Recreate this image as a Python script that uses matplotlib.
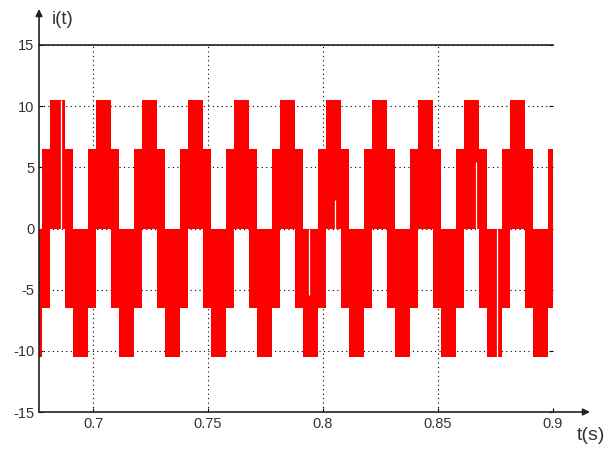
import numpy as np
import matplotlib
matplotlib.use("Agg")
import matplotlib.pyplot as plt

plt.rcParams['font.family'] = ['Liberation Sans', 'DejaVu Sans']
plt.rcParams['axes.unicode_minus'] = False

# one switching cycle (fractions of the 20 ms period) and its envelope levels
period = 0.02
cycle_edges = [0.0, 1 / 6, 1 / 2, 2 / 3, 1.0]
upper_levels = [6.5, 10.5, 6.5, 0.0]
lower_levels = [-6.5, 0.0, -6.5, -10.5]

# start time of every cycle seen in the picture
cycle_starts = [0.6578, 0.6778, 0.6978, 0.7178, 0.7378, 0.7578, 0.7778,
                0.7978, 0.8178, 0.8378, 0.8578, 0.8778, 0.8978]

# thin white dropouts in the band: time, from, to
glitch_t = [0.6861, 0.7941, 0.8052, 0.8665, 0.8758]
glitch_lo = [0.0, -5.4, 0.0, 0.0, -10.5]
glitch_hi = [10.5, 0.0, 2.3, 5.4, 0.0]

x_ticks = [0.7, 0.75, 0.8, 0.85, 0.9]
x_labels = ['0.7', '0.75', '0.8', '0.85', '0.9']
y_ticks = [-15, -10, -5, 0, 5, 10, 15]

t_min, t_max = 0.6765, 0.9

# build step envelopes
t, up, lo = [], [], []
for s in cycle_starts:
    for k in range(len(upper_levels)):
        t.append(s + cycle_edges[k] * period)
        up.append(upper_levels[k])
        lo.append(lower_levels[k])
t = np.array(t)
up = np.array(up)
lo = np.array(lo)
keep = t <= t_max
t, up, lo = t[keep], up[keep], lo[keep]
t = np.append(t, t_max)
up = np.append(up, up[-1])
lo = np.append(lo, lo[-1])

fig = plt.figure(figsize=(6.06, 4.5), dpi=100)
ax = fig.add_axes([0.0644, 0.0844, 0.9125 - 0.0644, 0.9 - 0.0844])

ax.fill_between(t, lo, up, step='post', color='#ff0000', linewidth=0, zorder=2)
ax.vlines(glitch_t, glitch_lo, glitch_hi, colors='white', linewidth=0.9, zorder=3)

ax.set_xlim(t_min, t_max)
ax.set_ylim(-15, 15)
ax.set_xticks(x_ticks)
ax.set_xticklabels(x_labels)
ax.set_yticks(y_ticks)
ax.grid(True, color='black', linestyle=(0, (1, 3)), linewidth=0.8, zorder=1)
ax.tick_params(direction='in', length=3, width=0.8, labelsize=10.5,
               labelcolor='#333333', right=True, top=False)

ax.spines['right'].set_visible(False)
for side in ['left', 'bottom', 'top']:
    ax.spines[side].set_linewidth(1.2)
    ax.spines[side].set_color('#222222')

# axis arrows
ax.annotate('', xy=(0, 1.098), xytext=(0, 1.0), xycoords='axes fraction',
            arrowprops=dict(arrowstyle='-|>', color='#222222', lw=1.2,
                            mutation_scale=10, shrinkA=0, shrinkB=0))
ax.annotate('', xy=(1.072, 0), xytext=(1.0, 0), xycoords='axes fraction',
            arrowprops=dict(arrowstyle='-|>', color='#222222', lw=1.2,
                            mutation_scale=10, shrinkA=0, shrinkB=0))

fig.text(52 / 606, 1 - 19 / 450, 'i(t)', fontsize=13.5, color='#333333',
         ha='left', va='center')
fig.text(591 / 606, 1 - 436 / 450, 't(s)', fontsize=14, color='#333333',
         ha='center', va='center')

fig.savefig('out.png', dpi=100)
